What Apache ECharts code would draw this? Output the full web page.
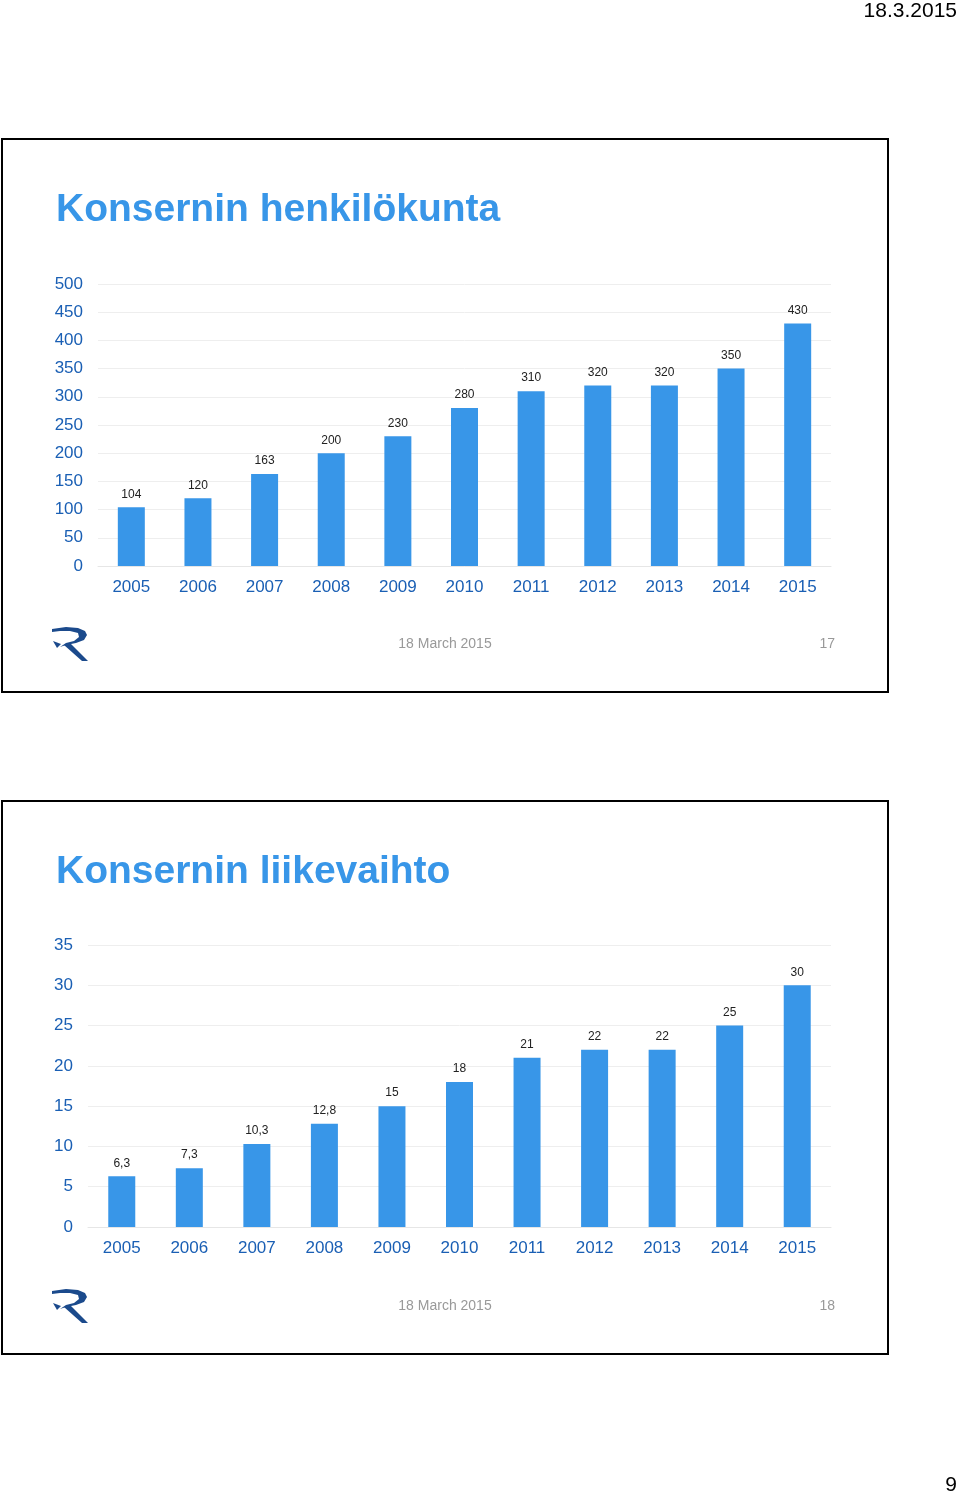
<!DOCTYPE html>
<html><head><meta charset="utf-8">
<script src="https://cdn.jsdelivr.net/npm/echarts@6/dist/echarts.min.js"></script>
<style>html,body{margin:0;padding:0;background:#fff}#c{width:960px;height:1496px}</style>
</head><body><div id="c"></div>
<script>
var years = ['2005','2006','2007','2008','2009','2010','2011','2012','2013','2014','2015'];
var staff = [104,120,163,200,230,280,310,320,320,350,430];
var sales = [6.3,7.3,10.3,12.8,15,18,21,22,22,25,30];

var font = '"Liberation Sans", Arial, sans-serif';
var blue = '#3896e8';

function logo(x, y) {
  return {
    type: 'group', x: x, y: y,
    children: [
      { type: 'polygon', shape: { points: [[0,1],[14,-1],[26,0],[33,3],[35,7],[32,12],[24,15],[14,17],[8,19],[14,15],[22,13],[27,9],[26,5],[18,3],[8,3],[0,4]] }, style: { fill: '#1b4a8c' } },
      { type: 'polygon', shape: { points: [[12,17],[18,15],[36,33],[30,33]] }, style: { fill: '#1b4a8c' } },
      { type: 'polygon', shape: { points: [[1,13],[9,16],[5,20]] }, style: { fill: '#1b4a8c' } }
    ]
  };
}

function frame(top, title, page) {
  return [
    { type: 'rect', shape: { x: 2, y: top, width: 886, height: 553 }, style: { fill: 'none', stroke: '#000', lineWidth: 2 } },
    { type: 'text', x: 56, y: top + 71, style: { text: title, font: 'bold 39px ' + font, fill: blue, textVerticalAlign: 'middle' } },
    logo(52, top + 489),
    { type: 'text', x: 445, y: top + 505, style: { text: '18 March 2015', font: '14px ' + font, fill: '#999', textAlign: 'center', textVerticalAlign: 'middle' } },
    { type: 'text', x: 835, y: top + 505, style: { text: page, font: '14px ' + font, fill: '#999', textAlign: 'right', textVerticalAlign: 'middle' } }
  ];
}

var chart = echarts.init(document.getElementById('c'));
var axisLabel = { color: '#1a5fb4', fontSize: 17, fontFamily: font };
chart.setOption({
  animation: false,
  graphic: [
    { type: 'text', x: 957, y: 11, style: { text: '18.3.2015', font: '21px ' + font, fill: '#000', textAlign: 'right', textVerticalAlign: 'middle' } },
    { type: 'text', x: 957, y: 1485, style: { text: '9', font: '21px ' + font, fill: '#000', textAlign: 'right', textVerticalAlign: 'middle' } }
  ].concat(frame(139, 'Konsernin henkilökunta', '17'), frame(801, 'Konsernin liikevaihto', '18')),
  grid: [
    { left: 98, right: 129, top: 284, height: 282 },
    { left: 88, right: 129, top: 945, height: 282 }
  ],
  xAxis: [0, 1].map(function (i) {
    return { type: 'category', data: years, gridIndex: i,
      axisLine: { lineStyle: { color: '#e6e6e6' } }, axisTick: { show: false },
      axisLabel: Object.assign({ margin: 13 }, axisLabel) };
  }),
  yAxis: [
    { type: 'value', gridIndex: 0, min: 0, max: 500, interval: 50,
      axisLabel: Object.assign({ margin: 15 }, axisLabel), splitLine: { lineStyle: { color: '#eeeeee' } } },
    { type: 'value', gridIndex: 1, min: 0, max: 35, interval: 5,
      axisLabel: Object.assign({ margin: 15 }, axisLabel), splitLine: { lineStyle: { color: '#eeeeee' } } }
  ],
  series: [
    { type: 'bar', data: staff, xAxisIndex: 0, yAxisIndex: 0, barWidth: 27,
      itemStyle: { color: blue },
      label: { show: true, position: 'top', distance: 7, color: '#222', fontSize: 12, fontFamily: font } },
    { type: 'bar', data: sales, xAxisIndex: 1, yAxisIndex: 1, barWidth: 27,
      itemStyle: { color: blue },
      label: { show: true, position: 'top', distance: 7, color: '#222', fontSize: 12, fontFamily: font,
        formatter: function (p) { return String(p.value).replace('.', ','); } } }
  ]
});
</script></body></html>
